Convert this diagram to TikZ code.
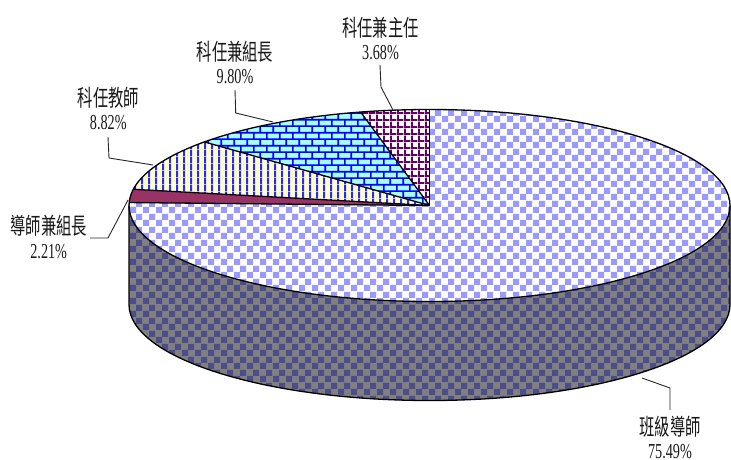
\documentclass[tikz,border=0pt]{standalone}
\usepackage{fontspec}
\setmainfont{Liberation Serif}
\newfontfamily\cjk{Noto Sans CJK TC}
\usetikzlibrary{patterns}

\definecolor{topblue}{RGB}{153,153,255}
\definecolor{sidenavy}{RGB}{77,77,140}
\definecolor{sidegray}{RGB}{128,128,128}
\definecolor{slred}{RGB}{153,51,102}
\definecolor{gridpurple}{RGB}{102,0,102}
\definecolor{stripeblue}{RGB}{40,40,255}
\definecolor{paleyellow}{RGB}{255,255,204}
\definecolor{brickblue}{RGB}{0,0,255}
\definecolor{palecyan}{RGB}{165,255,255}

\pgfdeclarepatternformonly{pchecker}{\pgfpointorigin}{\pgfqpoint{13pt}{13pt}}{\pgfqpoint{13pt}{13pt}}{%
  \pgfpathrectangle{\pgfpointorigin}{\pgfqpoint{6.5pt}{6.5pt}}%
  \pgfpathrectangle{\pgfqpoint{6.5pt}{6.5pt}}{\pgfqpoint{6.5pt}{6.5pt}}%
  \pgfusepath{fill}}
\pgfdeclarepatternformonly{pvstripes}{\pgfpointorigin}{\pgfqpoint{6.7pt}{6.7pt}}{\pgfqpoint{6.7pt}{6.7pt}}{%
  \pgfpathrectangle{\pgfpointorigin}{\pgfqpoint{2.2pt}{6.7pt}}%
  \pgfusepath{fill}}
\pgfdeclarepatternformonly{pgrid}{\pgfpointorigin}{\pgfqpoint{6.7pt}{6.7pt}}{\pgfqpoint{6.7pt}{6.7pt}}{%
  \pgfpathrectangle{\pgfpointorigin}{\pgfqpoint{2pt}{6.7pt}}%
  \pgfpathrectangle{\pgfpointorigin}{\pgfqpoint{6.7pt}{2pt}}%
  \pgfusepath{fill}}
\pgfdeclarepatternformonly{pbrick}{\pgfpointorigin}{\pgfqpoint{13.4pt}{13.4pt}}{\pgfqpoint{13.4pt}{13.4pt}}{%
  \pgfpathrectangle{\pgfpointorigin}{\pgfqpoint{13.4pt}{1.8pt}}%
  \pgfpathrectangle{\pgfqpoint{0pt}{6.7pt}}{\pgfqpoint{13.4pt}{1.8pt}}%
  \pgfpathrectangle{\pgfpointorigin}{\pgfqpoint{1.8pt}{6.7pt}}%
  \pgfpathrectangle{\pgfqpoint{6.7pt}{6.7pt}}{\pgfqpoint{1.8pt}{6.7pt}}%
  \pgfusepath{fill}}

\begin{document}
\begin{tikzpicture}[x=1pt,y=1pt,
  ell/.style={x radius=300.5pt,y radius=96pt},
  outline/.style={draw=black,line width=1.3pt,line join=round},
  leader/.style={draw=black!85,line width=0.9pt},
  lab/.style={align=center,yscale=1.5,inner sep=0pt,text=black!90,
    font=\fontsize{15.3pt}{15.7pt}\selectfont},
]
\useasboundingbox (0,0) rectangle (731,459);
\coordinate (C) at (429.5,253.5);
\coordinate (L) at (129,253.5);

% side wall of the big slice
\path[fill=sidegray,postaction={pattern=pchecker,pattern color=sidenavy}]
  (L) arc[start angle=180,end angle=360,ell] -- ++(0,-99)
  arc[start angle=0,end angle=-180,ell] -- cycle;

% top faces
\path[fill=white,postaction={pattern=pchecker,pattern color=topblue}]
  (C) -- ++(178.24:300.5pt and 96pt) arc[start angle=178.24,end angle=450,ell] -- cycle;
\path[fill=slred]
  (C) -- ++(170.28:300.5pt and 96pt) arc[start angle=170.28,end angle=178.24,ell] -- cycle;
\path[fill=paleyellow,postaction={pattern=pvstripes,pattern color=stripeblue}]
  (C) -- ++(138.53:300.5pt and 96pt) arc[start angle=138.53,end angle=170.28,ell] -- cycle;
\path[fill=palecyan,postaction={pattern=pbrick,pattern color=brickblue}]
  (C) -- ++(103.25:300.5pt and 96pt) arc[start angle=103.25,end angle=138.53,ell] -- cycle;
\path[fill=white,postaction={pattern=pgrid,pattern color=gridpurple}]
  (C) -- ++(90:300.5pt and 96pt) arc[start angle=90,end angle=103.25,ell] -- cycle;

% outlines
\path[outline] (L) -- ++(0,-99) arc[start angle=180,end angle=360,ell] -- ++(0,99);
\path[outline] (C) ellipse[ell];
\foreach \a in {90,103.25,138.53,170.28,178.24}
  \path[outline] (C) -- ++(\a:300.5pt and 96pt);

% labels
\node[lab] (lzr) at (380.5,420.6) {{\cjk 科任兼主任}\\{\fontsize{14.2pt}{15.7pt}\selectfont 3.68\%}};
\node[lab] (lzz) at (235,396.5) {{\cjk 科任兼組長}\\{\fontsize{14.2pt}{15.7pt}\selectfont 9.80\%}};
\node[lab] (lkj) at (108.3,350.7) {{\cjk 科任教師}\\{\fontsize{14.2pt}{15.7pt}\selectfont 8.82\%}};
\node[lab] (ldz) at (48.7,222) {{\cjk 導師兼組長}\\{\fontsize{14.2pt}{15.7pt}\selectfont 2.21\%}};
\node[lab] (lbj) at (670,21.5) {{\cjk 班級導師}\\{\fontsize{14.2pt}{15.7pt}\selectfont 75.49\%}};

% leader lines
\coordinate (s1) at (380,394); \coordinate (b1) at (381,372); \coordinate (e1) at (393,349);
\coordinate (s2) at (235,369); \coordinate (b2) at (235.7,346); \coordinate (e2) at (273,337);
\coordinate (s3) at (108,322); \coordinate (b3) at (109,301); \coordinate (e3) at (153,294);
\coordinate (s4) at (90,221); \coordinate (b4) at (108,221); \coordinate (e4) at (128,259);
\coordinate (s5) at (670,49); \coordinate (b5) at (670,71); \coordinate (e5) at (642,81);
\path[leader] (s1) -- (b1) -- (e1);
\path[leader] (s2) -- (b2) -- (e2);
\path[leader] (s3) -- (b3) -- (e3);
\path[leader] (s4) -- (b4) -- (e4);
\path[leader] (s5) -- (b5) -- (e5);
\end{tikzpicture}
\end{document}
